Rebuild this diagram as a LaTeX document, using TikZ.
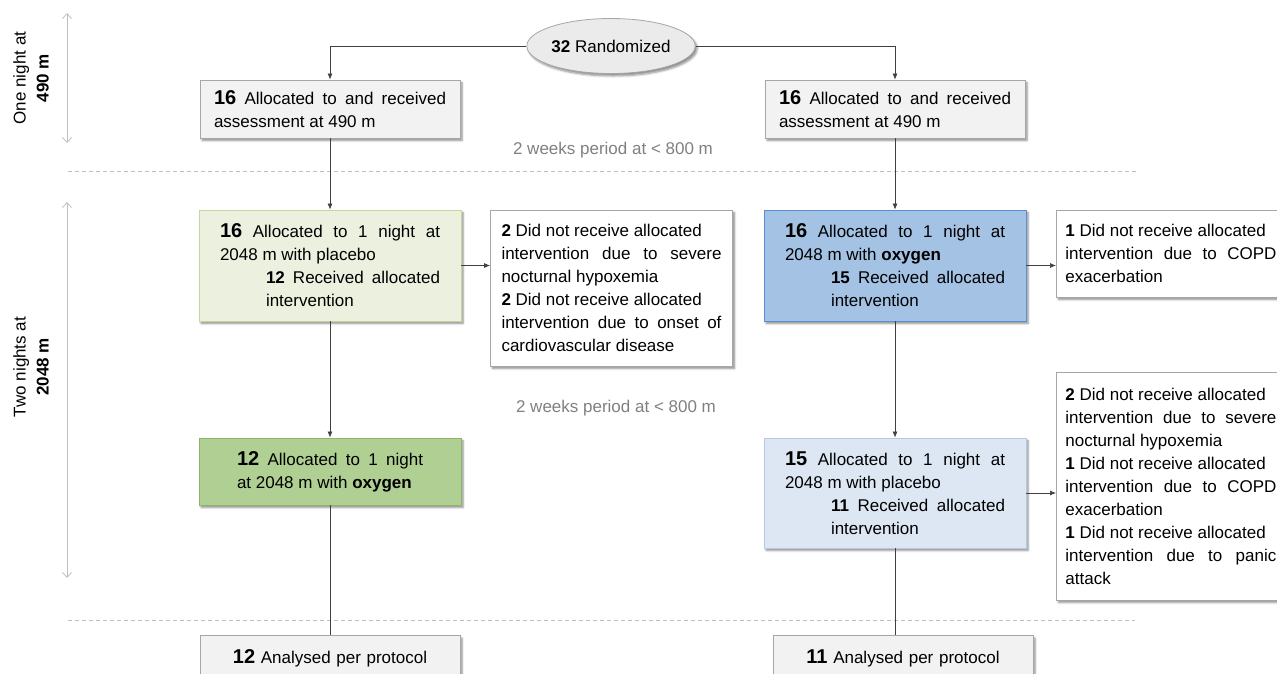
\documentclass[tikz,border=0pt]{standalone}
\usepackage{fontspec}
\setmainfont{Liberation Sans}
\usetikzlibrary{calc, shapes.geometric, arrows.meta}
\usetikzlibrary{shadows.blur}

\definecolor{boxgray}{HTML}{F2F2F2}
\definecolor{linegray}{HTML}{A6A6A6}
\definecolor{ovalgray}{HTML}{EBEBEB}
\definecolor{greenlight}{HTML}{EBF1DE}
\definecolor{greenlightline}{HTML}{C3D69B}
\definecolor{greendark}{HTML}{AFCF93}
\definecolor{greendarkline}{HTML}{8CB56A}
\definecolor{bluedark}{HTML}{A4C2E4}
\definecolor{bluedarkline}{HTML}{5B8ED0}
\definecolor{bluelight}{HTML}{DDE7F3}
\definecolor{bluelightline}{HTML}{B4C9E3}
\definecolor{conngray}{HTML}{404040}
\definecolor{textgray}{HTML}{808080}
\definecolor{guidegray}{HTML}{BFBFBF}

\newcommand{\num}[1]{{\fontsize{20}{23}\selectfont\bfseries #1}}
\newcommand{\subpart}[1]{\par{\leftskip=46pt\relax #1\par}}

\tikzset{
  txt/.style={font=\fontsize{17}{23}\selectfont},
  shade box/.style={blur shadow={shadow xshift=2pt, shadow yshift=-2.5pt,
      shadow blur steps=5, shadow opacity=45}},
  box/.style={txt, shade box, draw=linegray, line width=0.8pt, fill=boxgray,
    minimum width=260pt, minimum height=58pt, text width=232pt,
    align=justify, inner sep=0pt},
  armbox/.style={box, minimum width=262pt, minimum height=111pt, text width=220pt},
  exclbox/.style={box, fill=white, minimum width=242pt, text width=220pt},
  edgebox/.style={exclbox, minimum width=229pt, text width=211pt, anchor=west},
  oval/.style={txt, shade box, ellipse, draw=linegray, line width=0.8pt,
    fill=ovalgray, minimum width=162pt, minimum height=55pt, inner sep=0pt},
  conn/.style={draw=conngray, line width=0.7pt},
  arr/.style={conn, -{Latex[length=6pt, width=5pt]}},
  guide/.style={draw=guidegray, line width=0.8pt,
    {Straight Barb[length=5pt, width=9pt]}-{Straight Barb[length=5pt, width=9pt]}},
  sep/.style={draw=guidegray, line width=0.8pt, dash pattern=on 4pt off 3pt},
  period/.style={txt, text=textgray}
}

\begin{document}
\begin{tikzpicture}[x=1pt, y=-1pt]

% Page
\useasboundingbox (0, 0) rectangle (1277, 673);
\clip (0, 0) rectangle (1277, 673);

% Columns
\newcommand{\colL}{330}
\newcommand{\colR}{895}

% Side guides
\coordinate (G1T) at (67, 13);
\coordinate (G1B) at (67, 143);
\coordinate (G2T) at (67, 202);
\coordinate (G2B) at (67, 578);
\draw [guide] (G1T) -- (G1B);
\draw [guide] (G2T) -- (G2B);
\node [txt, rotate=90, align=center] (S1) at (31, 78) {One night at\\\textbf{490 m}};
\node [txt, rotate=90, align=center] (S2) at (31, 367) {Two nights at\\\textbf{2048 m}};

% Separators
\draw [sep] (68, 171) -- (1138, 171);
\draw [sep] (68, 620) -- (1135, 620);
\node [period] (W1) at (613, 150) {2 weeks period at < 800 m};
\node [period] (W2) at (616, 408) {2 weeks period at < 800 m};

% Randomisation
\node [oval] (RND) at (611, 46) {\textbf{32} Randomized};

% Row 1: assessment at 490 m
\node [box] (L1) at (\colL, 109) {\num{16} Allocated to and received\linebreak assessment at 490 m};
\node [box] (R1) at (\colR, 109) {\num{16} Allocated to and received\linebreak assessment at 490 m};

% Row 2: first night at 2048 m
\node [armbox, fill=greenlight, draw=greenlightline] (L2) at (\colL, 265.5)
  {\num{16} Allocated to 1 night at\linebreak 2048 m with placebo
   \subpart{\textbf{12} Received allocated\linebreak intervention}};
\node [armbox, fill=bluedark, draw=bluedarkline] (R2) at (\colR, 265.5)
  {\num{16} Allocated to 1 night at\linebreak 2048 m with \textbf{oxygen}
   \subpart{\textbf{15} Received allocated\linebreak intervention}};

\node [exclbox, minimum height=156pt] (LX) at (611.5, 288)
  {\textbf{2} Did not receive allocated\newline
   intervention due to severe\linebreak nocturnal hypoxemia\par
   \textbf{2} Did not receive allocated\newline
   intervention due to onset of\linebreak cardiovascular disease};
\node [edgebox, minimum height=87pt] (RX2) at (1056, 253.5)
  {\textbf{1} Did not receive allocated\newline
   intervention due to COPD\linebreak exacerbation};

% Row 3: second night at 2048 m
\node [armbox, fill=greendark, draw=greendarkline, minimum height=67pt,
  text width=186pt] (L3) at (\colL, 471.5)
  {\num{12} Allocated to 1 night\linebreak at 2048 m with \textbf{oxygen}};
\node [armbox, fill=bluelight, draw=bluelightline, minimum height=110pt] (R3) at (\colR, 493)
  {\num{15} Allocated to 1 night at\linebreak 2048 m with placebo
   \subpart{\textbf{11} Received allocated\linebreak intervention}};

\node [edgebox, minimum height=228pt] (RX3) at (1056, 486)
  {\textbf{2} Did not receive allocated\newline
   intervention due to severe\linebreak nocturnal hypoxemia\par
   \textbf{1} Did not receive allocated\newline
   intervention due to COPD\linebreak exacerbation\par
   \textbf{1} Did not receive allocated\newline
   intervention due to panic\linebreak attack};

% Row 4: analysis
\node [box, minimum height=45pt, align=center] (L4) at (\colL, 658) {\num{12} Analysed per protocol};
\node [box, minimum height=45pt, align=center] (R4) at (903, 658) {\num{11} Analysed per protocol};

% Connectors
\draw [arr] (RND.west) -| (L1.north);
\draw [arr] (RND.east) -| (R1.north);
\draw [arr] (L1.south) -- (L2.north);
\draw [arr] (R1.south) -- (R2.north);
\draw [arr] (L2.east) -- (L2.east -| LX.west);
\draw [arr] (R2.east) -- (R2.east -| RX2.west);
\draw [arr] (L2.south) -- (L3.north);
\draw [arr] (R2.south) -- (R3.north);
\draw [arr] (R3.east) -- (R3.east -| RX3.west);
\draw [conn] (L3.south) -- (L4.north);
\draw [conn] (R3.south) -- (R3.south |- R4.north);

\end{tikzpicture}
\end{document}
